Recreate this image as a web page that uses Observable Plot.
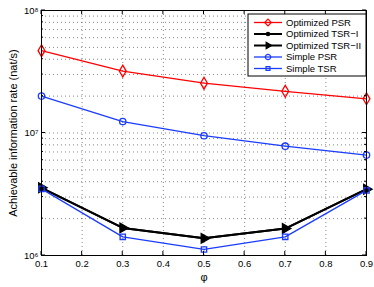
<!DOCTYPE html>
<html><head><meta charset="utf-8">
<script src="https://cdn.jsdelivr.net/npm/d3@7"></script>
<script src="https://cdn.jsdelivr.net/npm/@observablehq/plot@0.6"></script>
<style>body{margin:0;background:#fff}svg{font-family:"Liberation Sans",Arial,sans-serif}</style>
</head><body><div id="chart"></div>
<script>
const phi = [0.1, 0.3, 0.5, 0.7, 0.9];
const optPSR = [4.7e7, 3.2e7, 2.55e7, 2.19e7, 1.9e7];
const optTSR1 = [3.57e6, 1.68e6, 1.38e6, 1.66e6, 3.48e6];
const optTSR2 = [3.57e6, 1.68e6, 1.38e6, 1.66e6, 3.48e6];
const simPSR = [2.0e7, 1.24e7, 9.5e6, 7.8e6, 6.6e6];
const simTSR = [3.5e6, 1.42e6, 1.12e6, 1.42e6, 3.4e6];
const xTicks = [0.1, 0.2, 0.3, 0.4, 0.5, 0.6, 0.7, 0.8, 0.9];
const yMajor = [1e6, 1e7, 1e8];
const seriesNames = ["Optimized PSR", "Optimized TSR\u2212I", "Optimized TSR\u2212II", "Simple PSR", "Simple TSR"];

const series = [
  {name: seriesNames[0], vals: optPSR, color: "#ff0000", sw: 1.3, symbol: "diamond", fill: "none", r: 3.6, rotate: 0},
  {name: seriesNames[1], vals: optTSR1, color: "#000000", sw: 2, symbol: "circle", fill: "#000", r: 2, rotate: 0},
  {name: seriesNames[2], vals: optTSR2, color: "#000000", sw: 2, symbol: "triangle", fill: "#000", r: 3.6, rotate: 90},
  {name: seriesNames[3], vals: simPSR, color: "#1a3cff", sw: 1.3, symbol: "circle", fill: "none", r: 3.2, rotate: 0},
  {name: seriesNames[4], vals: simTSR, color: "#1a3cff", sw: 1.3, symbol: "square", fill: "none", r: 3, rotate: 0}
];
const rows = series.flatMap(s => phi.map((p, i) => ({name: s.name, x: p, y: s.vals[i]})));

const yMinor = [];
for (let e = 6; e < 8; e++) for (let m = 1; m < 10; m++) yMinor.push(m * Math.pow(10, e));
yMinor.push(1e8);
const sup = {"6": "\u2076", "7": "\u2077", "8": "\u2078"};

const marks = [
  Plot.ruleX(xTicks, {stroke: "#000", strokeOpacity: 0.6, strokeDasharray: "1,3", strokeWidth: 0.8}),
  Plot.ruleY(yMinor, {stroke: "#000", strokeOpacity: 0.6, strokeDasharray: "1,3", strokeWidth: 0.8}),
];
for (const s of series) {
  const d = rows.filter(r => r.name === s.name);
  marks.push(Plot.line(d, {x: "x", y: "y", stroke: s.color, strokeWidth: s.sw}));
}
for (const s of series) {
  const d = rows.filter(r => r.name === s.name);
  marks.push(Plot.dot(d, {x: "x", y: "y", stroke: s.color, fill: s.fill, symbol: s.symbol, r: s.r, rotate: s.rotate, strokeWidth: 1.3}));
}
marks.push(Plot.frame({stroke: "#000", strokeWidth: 1}));
marks.push(Plot.axisX({ticks: xTicks, tickFormat: d => d.toFixed(1), tickSize: 0, tickPadding: 5, fontSize: 9.5, label: null}));
marks.push(Plot.axisY({ticks: yMajor, tickFormat: d => "10" + sup[String(Math.round(Math.log10(d)))], tickSize: 0, tickPadding: 3, fontSize: 9.5, label: null}));
marks.push(Plot.text(["\u03c6"], {frameAnchor: "bottom", dy: 25, fontSize: 11}));
marks.push(Plot.text(["Achievable information rate (nat/s)"], {frameAnchor: "left", textAnchor: "middle", dx: -28, rotate: -90, fontSize: 11}));

const chart = Plot.plot({
  width: 374, height: 287,
  marginLeft: 41, marginRight: 8, marginTop: 10, marginBottom: 32,
  style: {fontFamily: "Liberation Sans, Arial, sans-serif", fontSize: "9.5px", background: "#fff"},
  x: {domain: [0.1, 0.9]},
  y: {type: "log", domain: [1e6, 1e8]},
  marks
});
document.getElementById("chart").appendChild(chart);

// inward ticks and legend
const svg = d3.select(chart);
const xs = chart.scale("x"), ys = chart.scale("y");
const L = 41, R = 366, T = 10, B = 255;
const g = svg.append("g").attr("stroke", "#000").attr("stroke-width", 1);
for (const t of xTicks) {
  const px = xs.apply(t);
  g.append("line").attr("x1", px).attr("x2", px).attr("y1", B).attr("y2", B - 4);
  g.append("line").attr("x1", px).attr("x2", px).attr("y1", T).attr("y2", T + 4);
}
for (const t of yMinor) {
  const py = ys.apply(t);
  const len = yMajor.includes(t) ? 4 : 2;
  g.append("line").attr("x1", L).attr("x2", L + len).attr("y1", py).attr("y2", py);
  g.append("line").attr("x1", R).attr("x2", R - len).attr("y1", py).attr("y2", py);
}

const lg = svg.append("g").attr("text-anchor", "start");
const lx = 248, ly = 14, lw = 118, lh = 62;
lg.append("rect").attr("x", lx).attr("y", ly).attr("width", lw).attr("height", lh).attr("fill", "#fff").attr("stroke", "#000").attr("stroke-width", 1);
const symMap = {diamond: d3.symbolDiamond2, circle: d3.symbolCircle, square: d3.symbolSquare2, triangle: d3.symbolTriangle2};
series.forEach((s, i) => {
  const yy = ly + 8.5 + i * 11.5;
  lg.append("line").attr("x1", lx + 6).attr("x2", lx + 34).attr("y1", yy).attr("y2", yy).attr("stroke", s.color).attr("stroke-width", s.sw);
  const size = Math.PI * s.r * s.r * 0.7;
  lg.append("path").attr("d", d3.symbol(symMap[s.symbol], size)()).attr("transform", `translate(${lx + 20},${yy}) rotate(${s.rotate})`)
    .attr("fill", s.fill).attr("stroke", s.color).attr("stroke-width", 1.2);
  lg.append("text").attr("x", lx + 38).attr("y", yy).attr("dy", "0.35em").attr("font-size", "9.5px").attr("fill", "#000").attr("text-anchor", "start").text(s.name);
});
</script></body></html>
